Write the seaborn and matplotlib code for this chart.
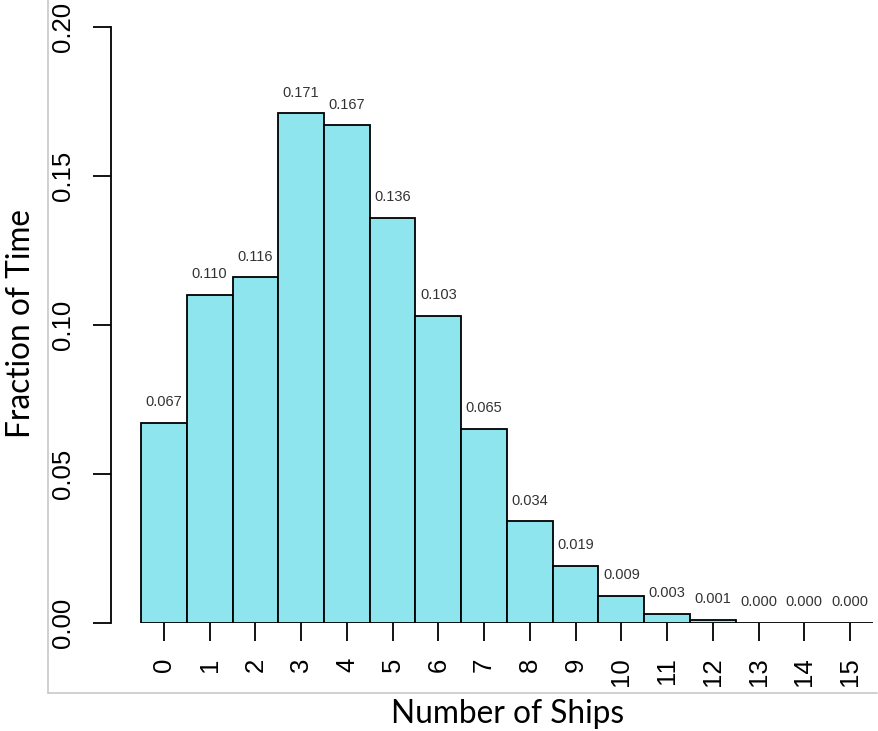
import matplotlib
matplotlib.use('Agg')
import matplotlib.pyplot as plt
import matplotlib.lines as mlines
import seaborn as sns
import numpy as np
import pandas as pd

# ==========================================
# 数据
# ==========================================
ships = [str(i) for i in range(16)]
fractions = [0.067, 0.110, 0.116, 0.171, 0.167, 0.136, 0.103, 0.065,
             0.034, 0.019, 0.009, 0.003, 0.001, 0.000, 0.000, 0.000]
y_ticks = [0.00, 0.05, 0.10, 0.15, 0.20]
y_tick_labels = ['0.00', '0.05', '0.10', '0.15', '0.20']

BAR_COLOR = '#8EE5EE'
OUTPUT_IMG = 'out.png'

W, H = 879, 731


def main():
    sns.set_theme(style='white')
    plt.rcParams['font.family'] = ['Liberation Sans', 'DejaVu Sans']

    df = pd.DataFrame({'Ships': ships, 'Fraction': fractions})

    fig = plt.figure(figsize=(W / 100, H / 100), dpi=100)
    # 轴区域: 左侧y轴在 x=111px, 0.00 在 y=622.7px, 0.20 在 y=27px
    ax = fig.add_axes([111 / W, (H - 622.7) / H, (876 - 111) / W, (622.7 - 27) / H])

    sns.barplot(data=df, x='Ships', y='Fraction', color=BAR_COLOR, saturation=1,
                edgecolor='black', linewidth=1.3, width=1.0, ax=ax)

    ax.set_xlim(-1.156, 15.566)
    ax.set_ylim(0, 0.20)

    # 柱顶数值标签
    for i, v in enumerate(fractions):
        ax.annotate(f'{v:.3f}', xy=(i, v), xytext=(0, 12), textcoords='offset points',
                    ha='center', va='baseline', fontsize=10.5, color='#333333')

    # R 风格坐标轴
    for side in ['top', 'right', 'bottom']:
        ax.spines[side].set_visible(False)
    ax.spines['left'].set_color('black')
    ax.spines['left'].set_linewidth(1.3)

    ax.set_yticks(y_ticks)
    ax.set_yticklabels(y_tick_labels, rotation=90, va='center', fontsize=18.5)
    ax.set_xticks(range(len(ships)))
    ax.set_xticklabels(ships, rotation=90, fontsize=18.5)
    ax.tick_params(axis='both', which='major', length=13, width=1.3, color='black',
                   left=True, bottom=True, labelcolor='black')
    ax.tick_params(axis='y', pad=13)
    ax.tick_params(axis='x', pad=12)
    ax.set_xlabel('')
    ax.set_ylabel('')
    ax.grid(False)

    # 外部坐标轴标题
    fig.text(30 / W, 1 - 323 / H, 'Fraction of Time', rotation=90, rotation_mode='anchor',
             ha='center', va='baseline', fontsize=22.8, family=['Lato', 'DejaVu Sans'],
             color='black')
    fig.text(507.5 / W, 1 - 723 / H, 'Number of Ships', ha='center', va='baseline',
             fontsize=22.8, family=['Lato', 'DejaVu Sans'], color='black')

    # 灰色边框线
    fig.add_artist(mlines.Line2D([48 / W, 48 / W], [1.0, 1 - 693 / H],
                                 color='#C8C8C8', linewidth=1.2, transform=fig.transFigure))
    fig.add_artist(mlines.Line2D([48 / W, 877 / W], [1 - 693 / H, 1 - 693 / H],
                                 color='#C8C8C8', linewidth=1.2, transform=fig.transFigure))

    fig.savefig(OUTPUT_IMG, dpi=100)
    plt.close(fig)


if __name__ == "__main__":
    main()
